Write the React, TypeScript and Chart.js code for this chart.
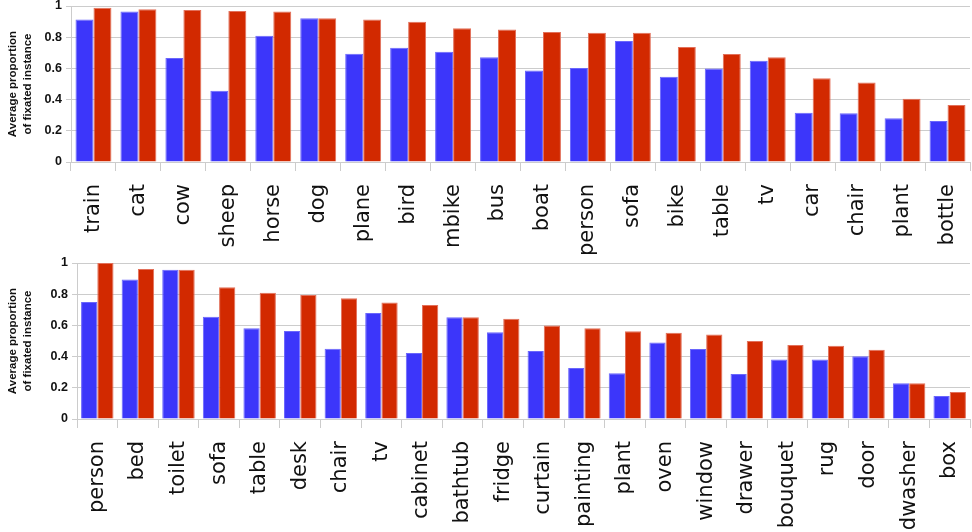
import React, { useEffect, useRef } from "react";
import { Chart, registerables } from "chart.js";

Chart.register(...registerables);

const topCategories = ["train", "cat", "cow", "sheep", "horse", "dog", "plane", "bird", "mbike", "bus", "boat", "person", "sofa", "bike", "table", "tv", "car", "chair", "plant", "bottle"];
const topBlue = [0.914, 0.964, 0.666, 0.456, 0.809, 0.921, 0.694, 0.732, 0.707, 0.672, 0.587, 0.602, 0.775, 0.546, 0.600, 0.649, 0.315, 0.313, 0.281, 0.263];
const topRed = [0.989, 0.979, 0.974, 0.968, 0.964, 0.921, 0.914, 0.899, 0.857, 0.850, 0.833, 0.829, 0.829, 0.737, 0.692, 0.672, 0.537, 0.510, 0.405, 0.366];

const bottomCategories = ["person", "bed", "toilet", "sofa", "table", "desk", "chair", "tv", "cabinet", "bathtub", "fridge", "curtain", "painting", "plant", "oven", "window", "drawer", "bouquet", "rug", "door", "dwasher", "box"];
const bottomBlue = [0.750, 0.895, 0.957, 0.656, 0.581, 0.564, 0.451, 0.679, 0.423, 0.652, 0.556, 0.436, 0.327, 0.293, 0.491, 0.449, 0.288, 0.382, 0.382, 0.402, 0.229, 0.147];
const bottomRed = [1.0, 0.962, 0.957, 0.844, 0.810, 0.795, 0.774, 0.746, 0.731, 0.652, 0.643, 0.600, 0.581, 0.562, 0.553, 0.541, 0.500, 0.474, 0.470, 0.444, 0.229, 0.173];

const yTitle = ["Average proportion", "of fixated instance"];

const BLUE = "#3c36fa";
const RED = "#d22900";
const BLUE_EDGE = "#6a66fc";
const RED_EDGE = "#e2705a";
const GRID = "#cccccc";

type PanelProps = {
  labels: string[];
  blue: number[];
  red: number[];
  top: number;
  height: number;
  plotTop: number;
  plotBottom: number;
  plotLeft: number;
};

function Panel({ labels, blue, red, top, height, plotTop, plotBottom, plotLeft }: PanelProps) {
  const ref = useRef<HTMLCanvasElement | null>(null);
  useEffect(() => {
    if (!ref.current) return;
    const chart = new Chart(ref.current, {
      type: "bar",
      data: {
        labels,
        datasets: [
          { data: blue, backgroundColor: BLUE, borderColor: BLUE_EDGE, borderWidth: 1 },
          { data: red, backgroundColor: RED, borderColor: RED_EDGE, borderWidth: 1 },
        ],
      },
      options: {
        responsive: false,
        animation: false,
        events: [],
        layout: { padding: { top: plotTop, left: 0, right: 2, bottom: 0 } },
        plugins: { legend: { display: false }, tooltip: { enabled: false } },
        datasets: { bar: { categoryPercentage: 0.8, barPercentage: 1.0 } },
        scales: {
          x: {
            grid: { display: true, drawOnChartArea: false, drawTicks: true, tickLength: 9, color: GRID },
            border: { display: true, color: GRID },
            ticks: {
              autoSkip: false,
              maxRotation: 90,
              minRotation: 90,
              padding: 13,
              color: "#111",
              font: { family: "DejaVu Sans", size: 21 },
            },
            afterFit: (scale: any) => {
              scale.height = height - plotBottom;
              scale.paddingLeft = 0;
              scale.paddingRight = 0;
            },
          },
          y: {
            min: 0,
            max: 1,
            grid: { color: GRID, tickLength: 5, drawTicks: true },
            border: { display: true, color: GRID },
            ticks: {
              stepSize: 0.2,
              padding: 4,
              color: "#111",
              font: { family: "Liberation Sans", size: 12.5, weight: "bold" },
              callback: (v: any) => String(Number(Number(v).toFixed(1))),
            },
            title: {
              display: true,
              text: yTitle,
              color: "#111",
              font: { family: "Liberation Sans", size: 11.5, weight: "bold", lineHeight: 1.35 },
              padding: { top: 5, bottom: 0 },
            },
            afterFit: (scale: any) => {
              scale.width = plotLeft;
              scale.paddingTop = 0;
              scale.paddingBottom = 0;
            },
          },
        },
      },
    } as any);
    return () => chart.destroy();
  }, []);
  return (
    <canvas
      ref={ref}
      width={972}
      height={height}
      style={{ position: "absolute", left: 0, top, width: 972, height, display: "block" }}
    />
  );
}

export default function App() {
  useEffect(() => {
    document.body.style.margin = "0";
  }, []);
  return (
    <div style={{ position: "relative", width: 972, height: 532, background: "#fff", overflow: "hidden" }}>
      <Panel labels={topCategories} blue={topBlue} red={topRed} top={0} height={258} plotTop={6} plotBottom={162} plotLeft={71} />
      <Panel labels={bottomCategories} blue={bottomBlue} red={bottomRed} top={250} height={282} plotTop={13} plotBottom={169} plotLeft={77} />
    </div>
  );
}
